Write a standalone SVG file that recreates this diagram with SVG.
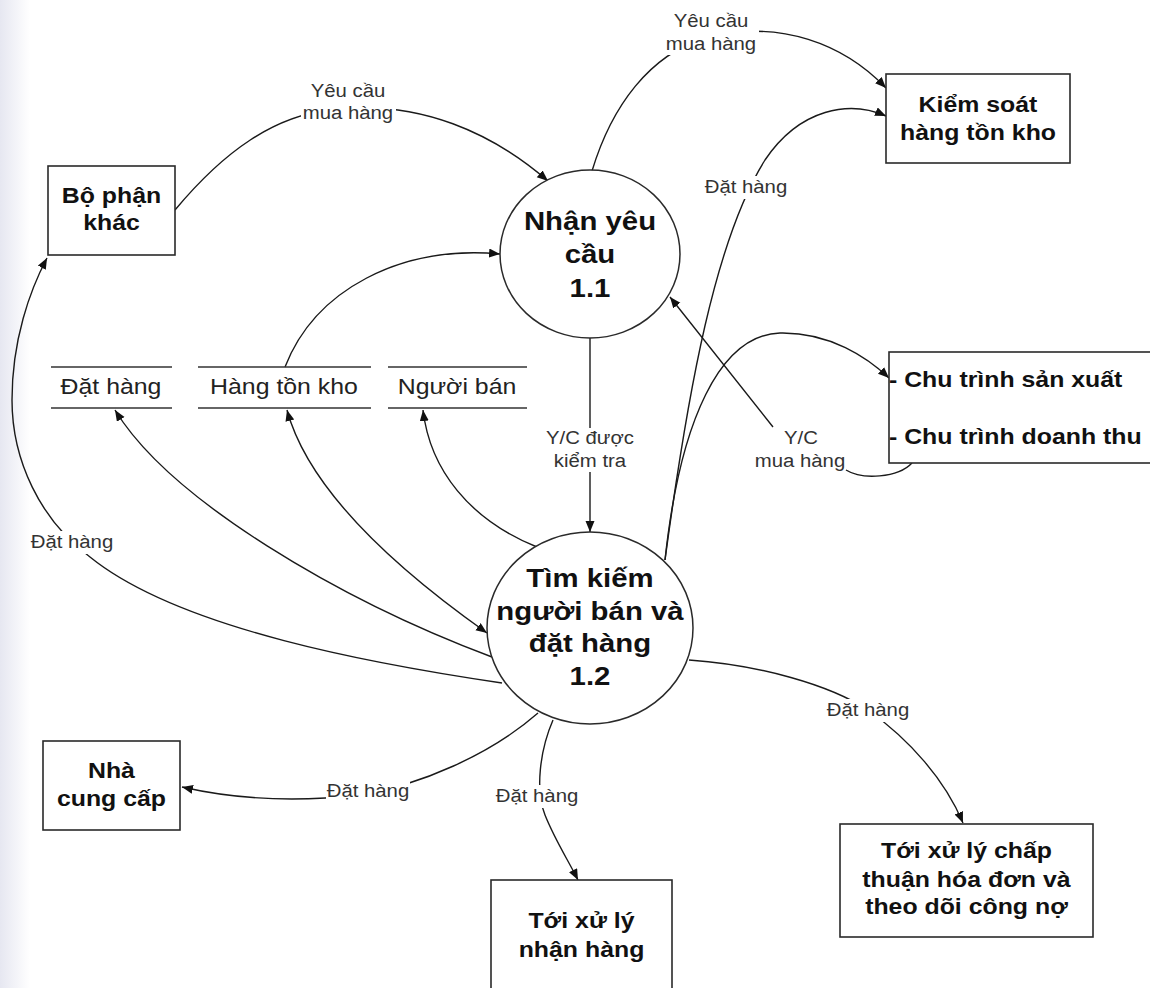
<svg xmlns="http://www.w3.org/2000/svg" width="1150" height="988" viewBox="0 0 1150 988">
  <defs>
    <marker id="arr" markerUnits="userSpaceOnUse" markerWidth="12" markerHeight="10" refX="11" refY="4.5" orient="auto-start-reverse">
      <path d="M0,0 L11,4.5 L0,9 Z" fill="#111"/>
    </marker>
    <linearGradient id="edge" x1="0" y1="0" x2="1" y2="0">
      <stop offset="0" stop-color="#e6e7f1"/>
      <stop offset="1" stop-color="#ffffff"/>
    </linearGradient>
    <style>
      .ln { fill: none; stroke: #1a1a1a; stroke-width: 1.4; }
      .box { fill: #fff; stroke: #2a2a2a; stroke-width: 1.6; }
      .proc { fill: #fff; stroke: #2a2a2a; stroke-width: 1.5; }
      .bar { stroke: #333; stroke-width: 1.6; }
      .gap { fill: #fff; stroke: none; }
      text { font-family: "Liberation Sans", Arial, sans-serif; transform-box: fill-box; transform-origin: center; transform: scaleX(1.13); }
      .nt { font-weight: bold; font-size: 22px; fill: #111; text-anchor: middle; }
      .pt { font-weight: bold; font-size: 26px; fill: #111; text-anchor: middle; }
      .lt { font-weight: bold; font-size: 22px; fill: #111; text-anchor: start; transform-origin: left center; }
      .st { font-size: 22px; fill: #222; text-anchor: middle; }
      .lb { font-size: 18px; fill: #333; text-anchor: middle; }
    </style>
  </defs>

  <rect x="0" y="0" width="1150" height="988" fill="#fff"/>
  <rect x="0" y="0" width="30" height="988" fill="url(#edge)"/>

  <!-- data flows -->
  <g id="connectors">
    <!-- Bộ phận khác -> 1.1 -->
    <path class="ln" d="M175,210 C 225,150 275,116 330,110 C 420,98 495,135 548,181" marker-end="url(#arr)"/>
    <!-- 1.1 -> Kiểm soát hàng tồn kho -->
    <path class="ln" d="M592,171 C 612,105 650,55 705,38 C 780,18 845,45 886,88" marker-end="url(#arr)"/>
    <!-- 1.2 -> Kiểm soát hàng tồn kho -->
    <path class="ln" d="M665,560 C 688,390 715,240 765,160 C 800,108 850,100 886,116" marker-end="url(#arr)"/>
    <!-- 1.2 -> Chu trình -->
    <path class="ln" d="M665,560 C 680,420 720,335 780,333 C 830,332 868,358 889,378" marker-end="url(#arr)"/>
    <!-- Chu trình -> 1.1 -->
    <path class="ln" d="M912,463 C 898,478 862,480 846,470 M773,427 L670,297" marker-end="url(#arr)"/>
    <!-- 1.1 -> 1.2 -->
    <path class="ln" d="M590,338 L590,532" marker-end="url(#arr)"/>
    <!-- Hàng tồn kho -> 1.1 -->
    <path class="ln" d="M285,367 C 315,290 400,245 500,254" marker-end="url(#arr)"/>
    <!-- 1.2 -> Bộ phận khác -->
    <path class="ln" d="M502,683 C 380,665 180,630 90,557 C 40,520 12,460 12,400 C 12,340 30,290 47,258" marker-end="url(#arr)"/>
    <!-- 1.2 -> Đặt hàng (store) -->
    <path class="ln" d="M492,657 C 340,600 170,500 115,410" marker-end="url(#arr)"/>
    <!-- Hàng tồn kho (store) <-> 1.2 -->
    <path class="ln" d="M287,410 C 310,495 405,575 487,633" marker-start="url(#arr)" marker-end="url(#arr)"/>
    <!-- 1.2 -> Người bán (store) -->
    <path class="ln" d="M537,547 C 470,520 430,470 423,410" marker-end="url(#arr)"/>
    <!-- 1.2 -> Nhà cung cấp -->
    <path class="ln" d="M538,713 C 490,755 420,785 360,795 C 290,803 230,798 182,787" marker-end="url(#arr)"/>
    <!-- 1.2 -> Tới xử lý nhận hàng -->
    <path class="ln" d="M553,720 C 540,750 535,790 545,815 C 555,840 568,860 578,880" marker-end="url(#arr)"/>
    <!-- 1.2 -> Tới xử lý chấp thuận hóa đơn -->
    <path class="ln" d="M689,660 C 760,665 830,685 868,710 C 910,740 945,780 963,823" marker-end="url(#arr)"/>

    <!-- flow labels, each on a white patch that breaks its line -->
    <rect class="gap" x="301" y="80" width="95" height="44"/>
    <text class="lb" x="348" y="97">Yêu cầu</text>
    <text class="lb" x="348" y="119">mua hàng</text>
    <rect class="gap" x="664" y="10" width="95" height="45"/>
    <text class="lb" x="711" y="27">Yêu cầu</text>
    <text class="lb" x="711" y="50">mua hàng</text>
    <rect class="gap" x="704" y="176" width="84" height="23"/>
    <text class="lb" x="746" y="193">Đặt hàng</text>
    <rect class="gap" x="549" y="428" width="82" height="44"/>
    <text class="lb" x="590" y="444">Y/C được</text>
    <text class="lb" x="590" y="467">kiểm tra</text>
    <text class="lb" x="801" y="444">Y/C</text>
    <text class="lb" x="800" y="467">mua hàng</text>
    <rect class="gap" x="30" y="531" width="84" height="23"/>
    <text class="lb" x="72" y="548">Đặt hàng</text>
    <rect class="gap" x="326" y="780" width="84" height="23"/>
    <text class="lb" x="368" y="797">Đặt hàng</text>
    <rect class="gap" x="495" y="785" width="84" height="23"/>
    <text class="lb" x="537" y="802">Đặt hàng</text>
    <rect class="gap" x="826" y="699" width="84" height="23"/>
    <text class="lb" x="868" y="716">Đặt hàng</text>
  </g>

  <!-- external entities -->
  <g id="bo-phan-khac">
    <rect class="box" x="48" y="166" width="127" height="89"/>
    <text class="nt" x="111.5" y="203">Bộ phận</text>
    <text class="nt" x="111.5" y="230">khác</text>
  </g>
  <g id="kiem-soat">
    <rect class="box" x="886" y="74" width="184" height="89"/>
    <text class="nt" x="978" y="112">Kiểm soát</text>
    <text class="nt" x="978" y="140">hàng tồn kho</text>
  </g>
  <g id="chu-trinh">
    <rect class="box" x="889" y="352" width="275" height="111"/>
    <text class="lt" x="889" y="387">- Chu trình sản xuất</text>
    <text class="lt" x="889" y="444">- Chu trình doanh thu</text>
  </g>
  <g id="nha-cung-cap">
    <rect class="box" x="43" y="741" width="137" height="89"/>
    <text class="nt" x="111.5" y="778">Nhà</text>
    <text class="nt" x="111.5" y="806">cung cấp</text>
  </g>
  <g id="nhan-hang">
    <rect class="box" x="491" y="880" width="181" height="120"/>
    <text class="nt" x="581.5" y="928">Tới xử lý</text>
    <text class="nt" x="581.5" y="957">nhận hàng</text>
  </g>
  <g id="chap-thuan">
    <rect class="box" x="840" y="824" width="253" height="113"/>
    <text class="nt" x="966.5" y="858">Tới xử lý chấp</text>
    <text class="nt" x="966.5" y="887">thuận hóa đơn và</text>
    <text class="nt" x="966.5" y="914">theo dõi công nợ</text>
  </g>

  <!-- processes -->
  <g id="p1-1">
    <ellipse class="proc" cx="590" cy="254" rx="90" ry="84"/>
    <text class="pt" x="590" y="230">Nhận yêu</text>
    <text class="pt" x="590" y="263">cầu</text>
    <text class="pt" x="590" y="297">1.1</text>
  </g>
  <g id="p1-2">
    <ellipse class="proc" cx="590" cy="628" rx="103" ry="96"/>
    <text class="pt" x="590" y="587">Tìm kiếm</text>
    <text class="pt" x="590" y="620">người bán và</text>
    <text class="pt" x="590" y="652">đặt hàng</text>
    <text class="pt" x="590" y="685">1.2</text>
  </g>

  <!-- data stores -->
  <g id="ds-dat-hang">
    <line class="bar" x1="51" y1="367" x2="172" y2="367"/>
    <line class="bar" x1="51" y1="408" x2="172" y2="408"/>
    <text class="st" x="111" y="394">Đặt hàng</text>
  </g>
  <g id="ds-hang-ton-kho">
    <line class="bar" x1="198" y1="367" x2="371" y2="367"/>
    <line class="bar" x1="198" y1="408" x2="371" y2="408"/>
    <text class="st" x="284" y="394">Hàng tồn kho</text>
  </g>
  <g id="ds-nguoi-ban">
    <line class="bar" x1="388" y1="367" x2="527" y2="367"/>
    <line class="bar" x1="388" y1="408" x2="527" y2="408"/>
    <text class="st" x="457" y="394">Người bán</text>
  </g>
</svg>
